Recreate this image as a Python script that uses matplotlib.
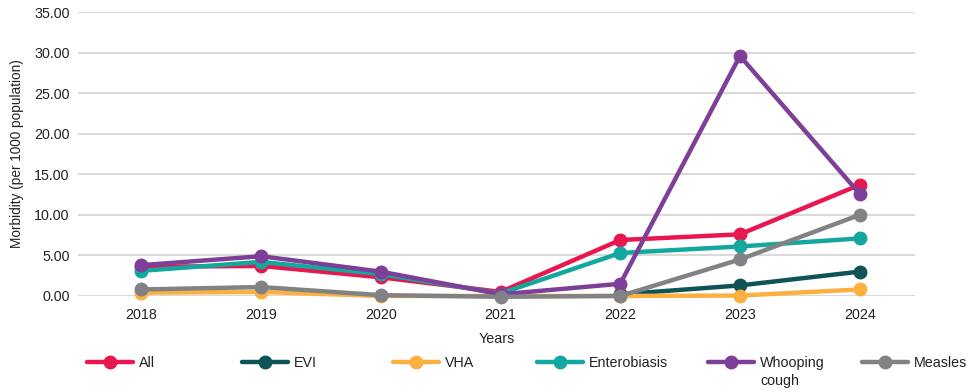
import matplotlib.pyplot as plt
from matplotlib.ticker import FormatStrFormatter

plt.rcParams["font.family"] = ["Liberation Sans", "DejaVu Sans"]

YEARS = ["2018", "2019", "2020", "2021", "2022", "2023", "2024"]
ALL = [3.6, 3.7, 2.3, 0.5, 6.9, 7.6, 13.7]
EVI = [None, None, None, None, 0.2, 1.3, 3.0]
VHA = [0.4, 0.5, 0.0, 0.0, 0.0, 0.05, 0.8]
ENTEROBIASIS = [3.1, 4.2, 2.7, 0.3, 5.3, 6.1, 7.1]
WHOOPING = [3.8, 4.9, 3.0, 0.2, 1.5, 29.6, 12.6]
MEASLES = [0.8, 1.1, 0.1, -0.1, 0.0, 4.5, 10.0]

SERIES = [
    ("All", ALL, "#E8174F"),
    ("EVI", EVI, "#0E5357"),
    ("VHA", VHA, "#FBB040"),
    ("Enterobiasis", ENTEROBIASIS, "#13A89E"),
    ("Whooping", WHOOPING, "#7E3F98"),
    ("Measles", MEASLES, "#808285"),
]
# legend handle left edges, in pixels
LEGEND_X = [87, 242, 393, 537, 708, 862]
FS = 10.3

fig = plt.figure(figsize=(9.7, 3.92), dpi=100)
ax = fig.add_axes([0.0804, 0.245, 0.8626, 0.724])

xs = list(range(len(YEARS)))
handles = []
for name, vals, color in SERIES:
    pts = [(x, v) for x, v in zip(xs, vals) if v is not None]
    px, py = zip(*pts)
    h, = ax.plot(px, py, color=color, lw=3.2, marker="o", ms=9, label=name,
                 clip_on=False, solid_capstyle="round")
    handles.append(h)

ax.set_xlim(-0.53, 6.46)
ax.set_ylim(0, 35)
ax.set_yticks(range(0, 36, 5))
ax.yaxis.set_major_formatter(FormatStrFormatter("%.2f"))
ax.set_xticks(xs)
ax.set_xticklabels(YEARS)
ax.tick_params(length=0, labelsize=FS, colors="#222222")
ax.tick_params(axis="y", pad=6)
ax.tick_params(axis="x", pad=9)
ax.grid(axis="y", color="#d9d9d9", lw=1.4)
ax.set_axisbelow(True)
for s in ax.spines.values():
    s.set_visible(False)

ax.set_ylabel("Morbidity (per 1000 population)", fontsize=FS - 0.5, color="#222222", labelpad=7)
ax.set_xlabel("Years", fontsize=FS, color="#222222", labelpad=7)

legs = []
for h, (name, _, _), lx in zip(handles, SERIES, LEGEND_X):
    leg = fig.legend([h], [name], loc="center left",
                     bbox_to_anchor=(lx / 970, 1 - 363 / 392), frameon=False,
                     fontsize=FS, handlelength=3.2, handletextpad=0.45,
                     borderaxespad=0, borderpad=0)
    for t in leg.get_texts():
        t.set_color("#222222")
    legs.append(leg)

# second line of the "Whooping cough" label
fig.canvas.draw()
bb = legs[4].get_texts()[0].get_window_extent()
fig.text(bb.x0 / 970, (bb.y0 - 18) / 392, "cough", fontsize=FS, color="#222222",
         ha="left", va="bottom")

fig.savefig("out.png", dpi=100)
